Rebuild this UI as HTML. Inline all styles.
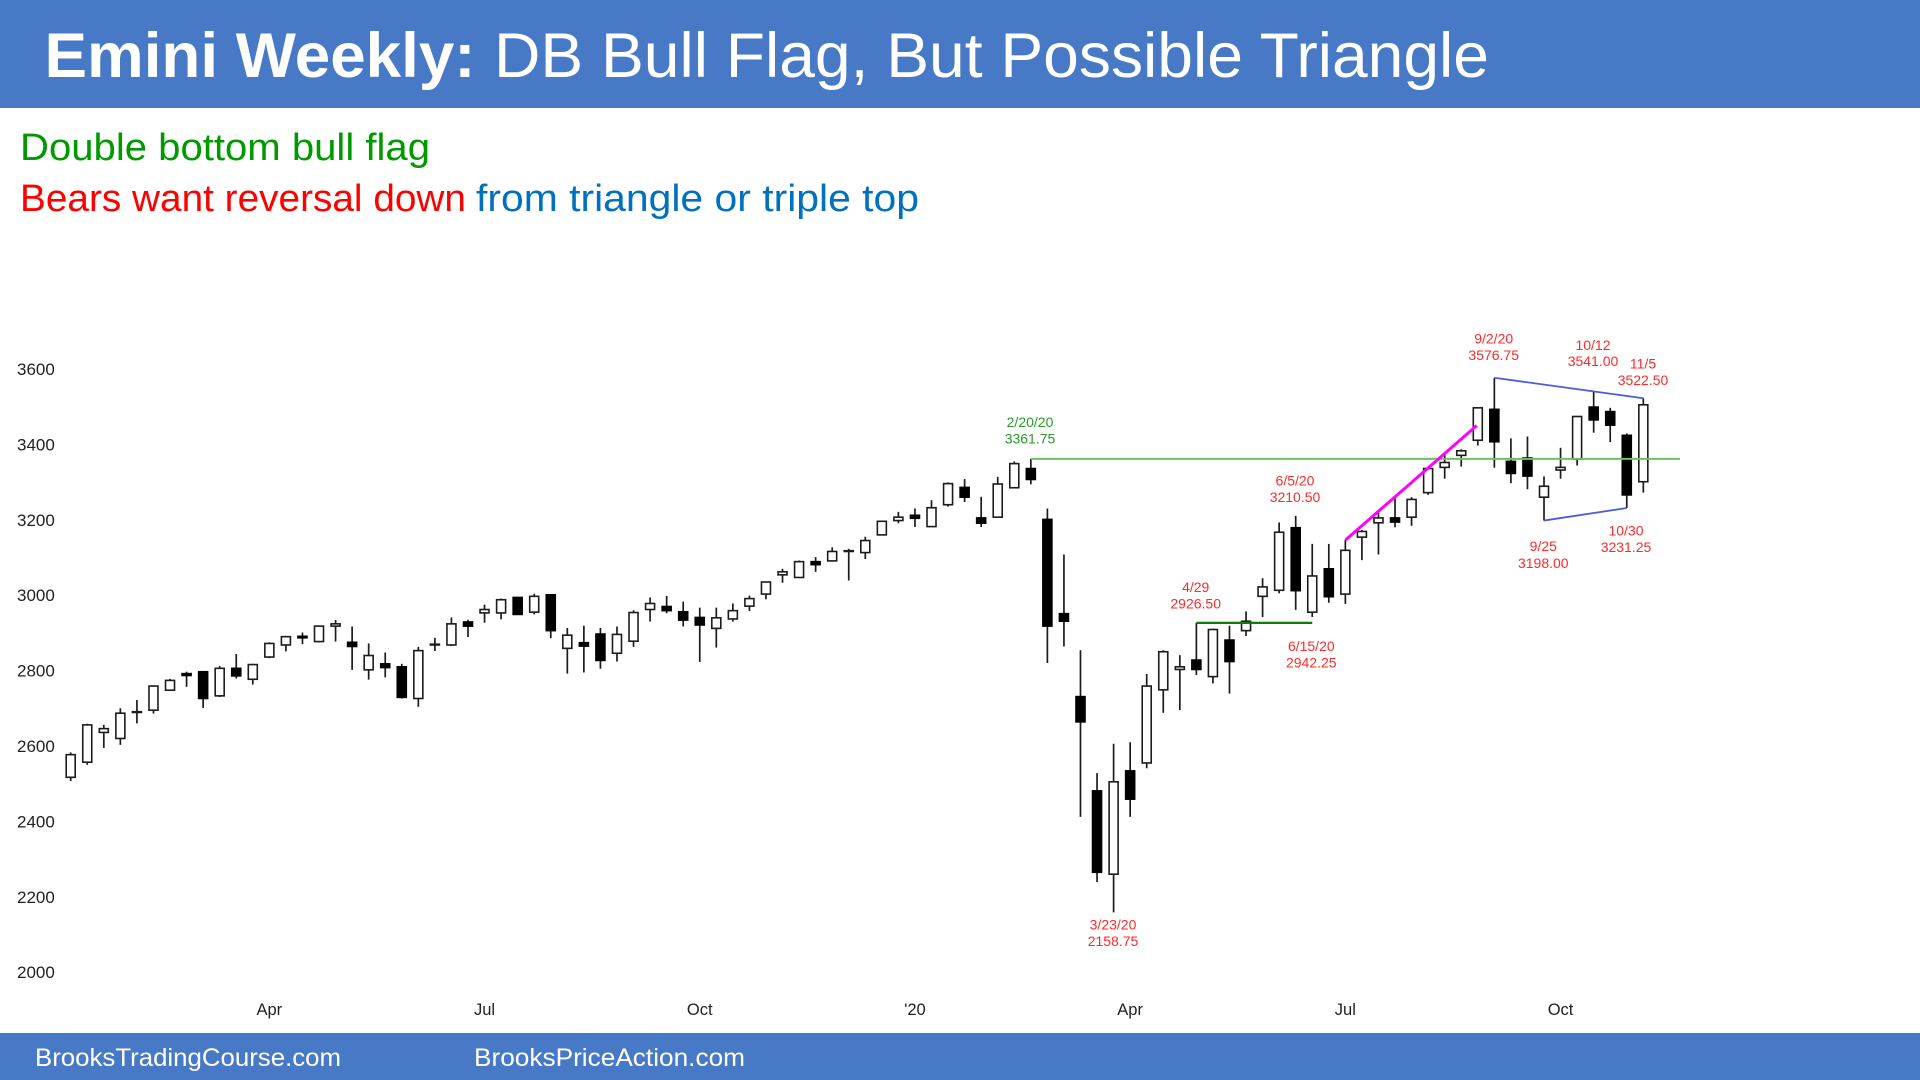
<!DOCTYPE html>
<html lang="en">
<head>
<meta charset="utf-8">
<title>Emini Weekly: DB Bull Flag, But Possible Triangle</title>
<style>
html,body{margin:0;padding:0;background:#fff;width:1920px;height:1080px;overflow:hidden}
svg{display:block;font-family:"Liberation Sans",Arial,sans-serif}
#candles,#overlays{filter:blur(0.35px)}
</style>
</head>
<body>
<svg id="chart" xmlns="http://www.w3.org/2000/svg" width="1920" height="1080" viewBox="0 0 1920 1080">
  <rect x="0" y="0" width="1920" height="1080" fill="#ffffff"/>
  <rect x="0" y="0" width="1920" height="108" fill="#4879c7"/>
  <text x="44.5" y="77" font-size="63" font-weight="700" fill="#ffffff" textLength="431" lengthAdjust="spacingAndGlyphs">Emini Weekly:</text>
  <text x="494" y="77" font-size="63" fill="#ffffff" textLength="995" lengthAdjust="spacingAndGlyphs">DB Bull Flag, But Possible Triangle</text>
  <text x="20" y="160" font-size="38" fill="#009900" textLength="410" lengthAdjust="spacingAndGlyphs">Double bottom bull flag</text>
  <text x="20" y="211" font-size="38" fill="#ff0000" textLength="446" lengthAdjust="spacingAndGlyphs">Bears want reversal down</text>
  <text x="476" y="211" font-size="38" fill="#0070c0" textLength="443" lengthAdjust="spacingAndGlyphs">from triangle or triple top</text>

  <g id="y-axis"></g>
  <g id="x-axis"></g>
  <g id="candles"></g>
  <g id="overlays"></g>

  <g font-size="14" fill="#ff2a2a" text-anchor="middle">
    <text x="1113" y="929.5">3/23/20</text>
    <text x="1113" y="946">2158.75</text>
    <text x="1195.7" y="592">4/29</text>
    <text x="1195.7" y="608.5">2926.50</text>
    <text x="1295" y="485.5">6/5/20</text>
    <text x="1295" y="502">3210.50</text>
    <text x="1311.3" y="651">6/15/20</text>
    <text x="1311.3" y="667.5">2942.25</text>
    <text x="1493.7" y="343.5">9/2/20</text>
    <text x="1493.7" y="360">3576.75</text>
    <text x="1593" y="350">10/12</text>
    <text x="1593" y="366">3541.00</text>
    <text x="1643" y="368.5">11/5</text>
    <text x="1643" y="385">3522.50</text>
    <text x="1543.3" y="551">9/25</text>
    <text x="1543.3" y="568">3198.00</text>
    <text x="1626" y="535.5">10/30</text>
    <text x="1626" y="552">3231.25</text>
  </g>
  <g font-size="14" fill="#2a9a2a" text-anchor="middle">
    <text x="1030" y="427">2/20/20</text>
    <text x="1030" y="443.5">3361.75</text>
  </g>

  <rect x="0" y="1033" width="1920" height="47" fill="#4879c7"/>
  <text x="35" y="1066" font-size="25" fill="#ffffff" textLength="306" lengthAdjust="spacingAndGlyphs">BrooksTradingCourse.com</text>
  <text x="474" y="1066" font-size="25" fill="#ffffff" textLength="271" lengthAdjust="spacingAndGlyphs">BrooksPriceAction.com</text>
</svg>

<script>
var opens = [2517,2557,2636,2620,2689,2695,2748,2792,2797,2733,2806,2777,2836,2868,2891,2877,2918,2875,2802,2818,2810,2726,2868,2868,2929,2953,2953,
  2994,2955,3001,2859,2874,2897,2846,2878,2962,2970,2956,2941,2912,2937,2971,3003,3054,3047,3089,3091,3116,3113,3160,3198,3212,3182,3240,3286,3205,3207,3285,
  3336,3201,2951,2731,2481,2260,2534,2555,2749,2803,2828,2784,2881,2906,2997,3013,3179,2955,3070,3003,
  3154,3192,3205,3207,3272,3339,3371,3411,3493,3355,3364,3260,3332,3361,3499,3487,3424,3301];
var highs = [2583,2659,2656,2700,2722,2761,2778,2797,2799,2812,2844,2818,2875,2892,2901,2920,2934,2917,2872,2848,2818,2863,2887,2941,2935,2975,2991,
  2996,3004,3002,2913,2919,2913,2917,2960,2994,2998,2983,2967,2967,2978,2999,3036,3070,3092,3101,3127,3123,3155,3198,3221,3230,3252,3299,3308,3261,3314,3355,
  3361.75,3230,3108,2854,2528,2606,2610,2791,2854,2841,2926.5,2911,2919,2957,3045,3193,3210.5,3136,3136,3146,
  3173,3219,3257,3260,3337,3372,3387,3498,3576.75,3416,3421,3315,3391,3475,3541,3497,3429,3522.5];
var lows = [2507,2550,2595,2603,2660,2686,2746,2757,2701,2730,2779,2763,2833,2851,2870,2875,2877,2802,2776,2782,2726,2704,2852,2865,2889,2927,2936,
  2948,2949,2886,2792,2795,2805,2824,2863,2930,2952,2917,2823,2861,2930,2958,2989,3033,3046,3062,3090,3039,3096,3159,3191,3181,3181,3235,3247,3181,3206,3284,
  3294,2820,2864,2412,2239,2158.75,2412,2541,2688,2695,2788,2766,2739,2892,2942,3005,2961,2942.25,2980,2977,
  3093,3108,3180,3184,3266,3309,3341,3397,3338,3297,3281,3198,3309,3344,3431,3406,3231.25,3272];
var closes = [2577,2656,2646,2687,2691,2759,2774,2787,2726,2806,2786,2816,2872,2890,2887,2918,2924,2864,2840,2808,2729,2853,2870,2924,2918,2962,2988,
  2949,2997,2906,2894,2865,2827,2896,2954,2978,2959,2934,2921,2940,2959,2991,3035,3062,3089,3081,3116,3118,3145,3196,3207,3204,3232,3296,3260,3191,3295,3349,
  3307,2918,2931,2664,2265,2505,2459,2759,2850,2810,2803,2909,2824,2931,3022,3167,3012,3051,2996,3119,
  3169,3205,3194,3254,3336,3352,3383,3497,3407,3323,3316,3289,3339,3474,3465,3451,3266,3505];

var yTickValues = [2000,2200,2400,2600,2800,3000,3200,3400,3600];
var xTickLabels = ["Apr","Jul","Oct","'20","Apr","Jul","Oct"];
var xTickBars = [12,25,38,51,64,77,90];

var SVGNS = "http://www.w3.org/2000/svg";

function xScale(i) { return 70.7 + i * 16.554; }
function yScale(v) { return 369 + (3600 - v) * 0.377; }

function make(parent, tag, attrs) {
  var el = document.createElementNS(SVGNS, tag);
  for (var k in attrs) { el.setAttribute(k, attrs[k]); }
  parent.appendChild(el);
  return el;
}

var yAxis = document.getElementById("y-axis");
yTickValues.forEach(function (v) {
  var t = make(yAxis, "text", { x: 17, y: yScale(v) + 6, "font-size": 17, fill: "#222222" });
  
  
  t.textContent = String(v);
});

var xAxis = document.getElementById("x-axis");
xTickLabels.forEach(function (label, n) {
  var t = make(xAxis, "text", { x: xScale(xTickBars[n]), y: 1015, "font-size": 16.5, fill: "#222222", "text-anchor": "middle" });
  
  
  t.textContent = label;
});

var candleGroup = document.getElementById("candles");
opens.forEach(function (open, i) {
  var close = closes[i];
  var up = close >= open;
  var cx = xScale(i);
  var g = make(candleGroup, "g", {});
  
  
  var wick = make(g, "line", { x1: cx, x2: cx, y1: yScale(highs[i]), y2: yScale(lows[i]), stroke: "#1c1c1c", "stroke-width": 1.7 });
  
  
  var top = yScale(Math.max(open, close));
  var bottom = yScale(Math.min(open, close));
  var body = make(g, "rect", {
    x: cx - 4.5, width: 9, y: top, height: Math.max(bottom - top, 0.6),
    fill: up ? "#ffffff" : "#000000",
    stroke: up ? "#1c1c1c" : "#000000",
    "stroke-width": 1.6
  });
  
  
});

var overlayGroup = document.getElementById("overlays");
function trendLine(name, bar1, value1, x2, y2, color, width) {
  var ln = make(overlayGroup, "line", { x1: xScale(bar1), y1: yScale(value1), x2: x2, y2: y2, stroke: color, "stroke-width": width });
  
  
  return ln;
}
trendLine('feb-high-support-line', 58, highs[58], 1680, yScale(highs[58]), "#74bd68", 2);
trendLine('breakout-base-line', 68, highs[68], xScale(75), yScale(highs[68]), "#0b7d0b", 2.2);
trendLine('bull-channel-line', 77, highs[77], xScale(85) - 1, yScale(3450), "#ff00ff", 3);
trendLine('triangle-upper-line', 86, highs[86], xScale(95), yScale(highs[95]), "#4a5ce0", 1.8);
trendLine('triangle-lower-line', 89, lows[89], xScale(94), yScale(lows[94]), "#4a5ce0", 1.8);
</script>
</body>
</html>
